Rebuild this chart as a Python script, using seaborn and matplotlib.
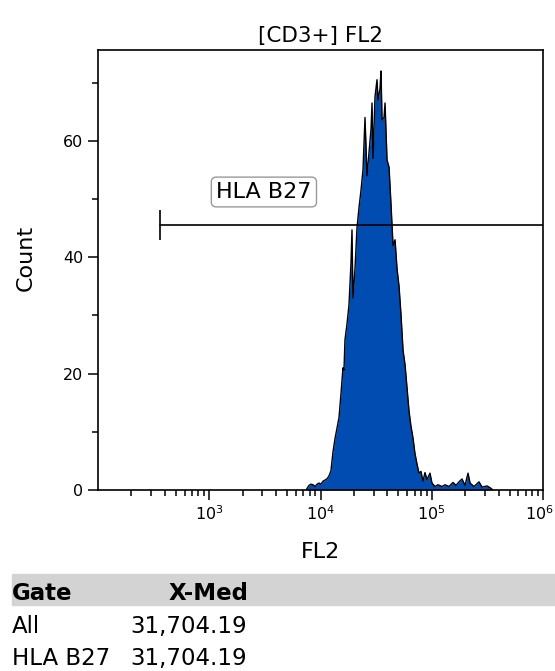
import numpy as np
import pandas as pd
import matplotlib
matplotlib.use("Agg")
import matplotlib.pyplot as plt
import matplotlib.patches as mpatches
import matplotlib.transforms as mtransforms
import seaborn as sns
from matplotlib.ticker import FixedLocator, LogLocator, NullFormatter

sns.set_style("ticks")
plt.rcParams["font.family"] = ["DejaVu Sans"]
plt.rcParams.update({"text.color": "black", "axes.labelcolor": "black",
                     "xtick.color": "black", "ytick.color": "black",
                     "axes.edgecolor": "black"})

# histogram of FL2 (log10 of channel value) vs event count
fl2_log = [3.870, 3.897, 3.915, 3.933, 3.951, 3.969, 3.987, 4.004, 4.022, 4.040,
           4.058, 4.076, 4.094, 4.112, 4.130, 4.148, 4.166, 4.184, 4.202, 4.211,
           4.220, 4.238, 4.256, 4.274, 4.283, 4.292, 4.310, 4.328, 4.346, 4.364,
           4.382, 4.400, 4.418, 4.436, 4.454, 4.463, 4.472, 4.490, 4.508, 4.517,
           4.535, 4.544, 4.553, 4.571, 4.580, 4.598, 4.616, 4.634, 4.652, 4.670,
           4.688, 4.706, 4.724, 4.742, 4.760, 4.778, 4.796, 4.813, 4.831, 4.849,
           4.867, 4.885, 4.903, 4.921, 4.939, 4.957, 4.984, 5.002, 5.029, 5.056,
           5.092, 5.119, 5.155, 5.191, 5.218, 5.245, 5.272, 5.299, 5.326, 5.344,
           5.380, 5.425, 5.452, 5.497, 5.524, 5.551]
counts = [0.0, 0.8, 1.0, 0.9, 0.6, 1.0, 1.2, 1.0, 1.5, 1.7,
          1.9, 2.4, 3.3, 6.5, 8.8, 10.6, 12.4, 16.5, 21.0, 20.6,
          25.8, 28.5, 31.8, 39.0, 44.7, 33.0, 38.0, 45.0, 48.5, 51.5,
          55.0, 64.0, 54.0, 58.0, 62.0, 66.5, 57.0, 67.6, 70.5, 67.0,
          69.0, 72.0, 63.6, 64.0, 66.5, 56.7, 55.5, 49.0, 42.0, 43.0,
          38.0, 35.0, 30.0, 24.0, 21.5, 17.5, 13.5, 11.0, 9.0, 6.3,
          4.5, 2.9, 3.2, 1.5, 3.0, 1.8, 2.9, 1.2, 0.6, 0.9,
          0.6, 0.9, 0.6, 1.3, 0.8, 1.4, 1.9, 0.8, 2.9, 1.2,
          0.6, 1.4, 0.5, 0.7, 0.4, 0.0]

gate_name = "HLA B27"
gate_lo, gate_hi, gate_y = 360, 1e6, 45.5
label_x, label_y = 3100, 51.2

table_header = ["Gate", "X-Med"]
table_gates = ["All", "HLA B27"]
table_med = [31704.19, 31704.19]

df = pd.DataFrame({"FL2": 10 ** np.array(fl2_log), "Count": counts})

fig = plt.figure(figsize=(5.55, 6.71), dpi=100)
ax = fig.add_axes([98 / 555, 1 - 490 / 671, 445 / 555, 440 / 671])
ax.set_xscale("log")

ax.fill_between(df["FL2"], df["Count"], color="#004cb0", lw=0)
sns.lineplot(data=df, x="FL2", y="Count", ax=ax, color="black", lw=1.0, sort=False)

# gate marker
ax.plot([gate_lo, gate_hi], [gate_y, gate_y], color="black", lw=1.2)
ax.plot([gate_lo], [gate_y], marker="|", ms=22, mew=1.2, color="black")
ax.text(label_x, label_y, gate_name, ha="center", va="center", fontsize=16,
        bbox=dict(boxstyle="round,pad=0.22", fc="white", ec="#999999", lw=1))

ax.set_xlim(100, 1e6)
ax.set_ylim(0, 75.6)
ax.xaxis.set_major_locator(FixedLocator([1e3, 1e4, 1e5, 1e6]))
ax.xaxis.set_minor_locator(LogLocator(base=10, subs=np.arange(2, 10)))
ax.xaxis.set_minor_formatter(NullFormatter())
ax.yaxis.set_major_locator(FixedLocator([0, 20, 40, 60]))
ax.yaxis.set_minor_locator(FixedLocator([10, 30, 50, 70]))
ax.tick_params(which="major", length=7, width=1.1, labelsize=11.5, direction="out")
ax.tick_params(which="minor", length=4, width=1.1, direction="out")
for s in ax.spines.values():
    s.set_linewidth(1.2)
    s.set_visible(True)

ax.set_title("[CD3+] FL2", fontsize=15.5, pad=6)
ax.set_xlabel("FL2", fontsize=16)
ax.set_ylabel("Count", fontsize=16)
ax.xaxis.set_label_coords(0.5, -0.118)
ax.yaxis.set_label_coords(-0.139, 0.527)

fig.canvas.draw()
last = ax.get_xticklabels()[-1]
last.set_transform(last.get_transform() + mtransforms.ScaledTranslation(-4 / 100, 0, fig.dpi_scale_trans))

# stats table under the plot
fig.patches.append(mpatches.Rectangle((12 / 555, 1 - 605 / 671), 1 - 12 / 555, 31 / 671,
                                      transform=fig.transFigure, color="#d3d3d3", zorder=0))
fig.text(12 / 555, 1 - 600 / 671, table_header[0], ha="left", va="baseline",
         fontsize=16.5, fontweight="bold")
fig.text(248 / 555, 1 - 600 / 671, table_header[1], ha="right", va="baseline",
         fontsize=16.5, fontweight="bold")
for i, (g, m) in enumerate(zip(table_gates, table_med)):
    yy = 1 - (633 + i * 32) / 671
    fig.text(12 / 555, yy, g, ha="left", va="baseline", fontsize=16.5)
    fig.text(247 / 555, yy, f"{m:,.2f}", ha="right", va="baseline", fontsize=16.5)

fig.savefig("out.png", dpi=100)
